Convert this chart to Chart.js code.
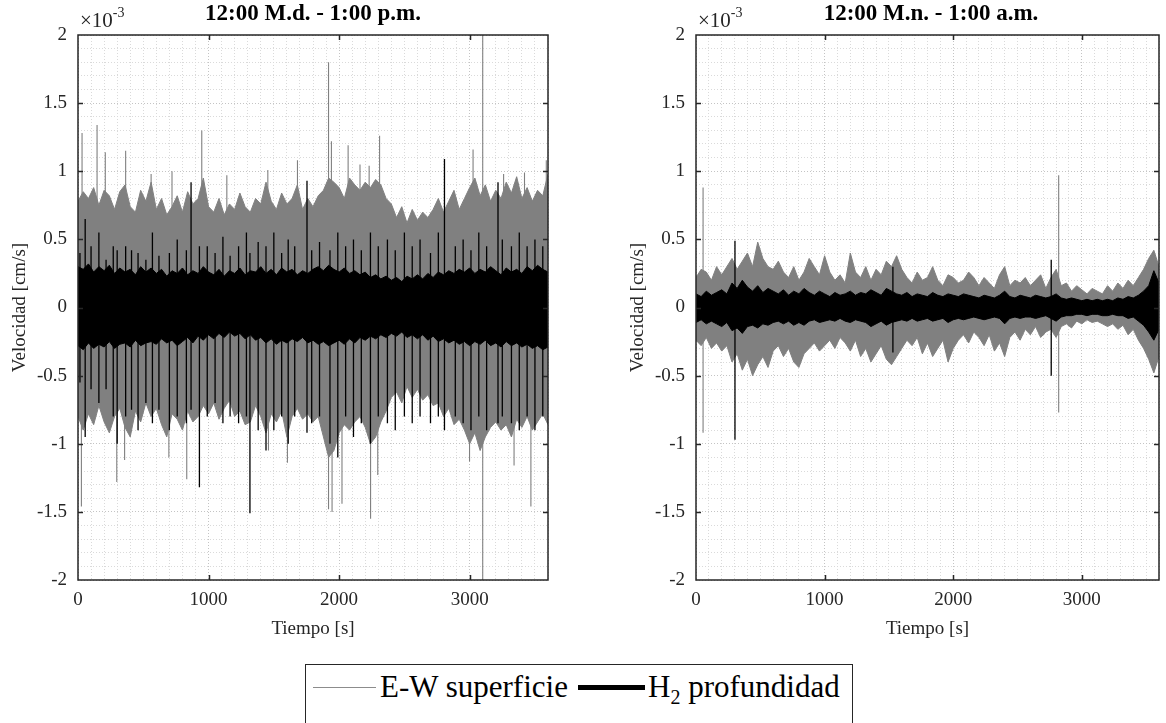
<!DOCTYPE html>
<html><head><meta charset="utf-8">
<script src="https://cdn.jsdelivr.net/npm/chart.js@4.4.1/dist/chart.umd.min.js"></script>
<style>
html,body{margin:0;padding:0;background:#fff;overflow:hidden;width:1166px;height:723px;}
#wrap{position:relative;width:1166px;height:723px;font-family:"Liberation Serif",serif;color:#262626;overflow:hidden;}
canvas{position:absolute;top:0;}
.ttl{position:absolute;font-family:"Liberation Serif",serif;font-weight:bold;font-size:23px;color:#000;white-space:nowrap;transform:translateX(-50%);top:0px;line-height:25px;}
.exp{position:absolute;font-family:"Liberation Serif",serif;font-size:21px;white-space:nowrap;top:3px;line-height:24px;color:#262626;}
.exp sup{font-size:14px;position:relative;top:-2px;}
#legend{position:absolute;left:305px;top:664px;width:548px;height:80px;border:1.5px solid #262626;box-sizing:border-box;background:#fff;}
.lgline{position:absolute;}
.lgtext{position:absolute;font-family:"Liberation Serif",serif;font-size:31px;line-height:36px;white-space:nowrap;color:#000;}
.lgtext sub{font-size:20px;line-height:0;}
</style></head>
<body><div id="wrap">
<canvas id="cL" width="583" height="660" style="left:0px;width:583px;height:660px"></canvas>
<canvas id="cR" width="550" height="660" style="left:618px;width:550px;height:660px"></canvas>
<div class="ttl" style="left:313px">12:00 M.d. - 1:00 p.m.</div>
<div class="ttl" style="left:931px">12:00 M.n. - 1:00 a.m.</div>
<div class="exp" style="left:80px">&times;10<sup>-3</sup></div>
<div class="exp" style="left:698px">&times;10<sup>-3</sup></div>
<div id="legend">
  <div class="lgline" style="left:7px;top:22px;width:63px;height:0;border-top:1.5px solid #8c8c8c"></div>
  <div class="lgtext" style="left:74px;top:4px">E-W superficie</div>
  <div class="lgline" style="left:272px;top:20px;width:67px;height:5px;background:#000"></div>
  <div class="lgtext" style="left:342px;top:4px">H<sub>2</sub> profundidad</div>
</div>
</div>
<script>
// Time axis (s) of the envelope samples
const timeSec = [0,40,80,120,160,200,240,280,320,360,
400,440,480,520,560,600,640,680,720,760,
800,840,880,920,960,1000,1040,1080,1120,1160,
1200,1240,1280,1320,1360,1400,1440,1480,1520,1560,
1600,1640,1680,1720,1760,1800,1840,1880,1920,1960,
2000,2040,2080,2120,2160,2200,2240,2280,2320,2360,
2400,2440,2480,2520,2560,2600,2640,2680,2720,2760,
2800,2840,2880,2920,2960,3000,3040,3080,3120,3160,
3200,3240,3280,3320,3360,3400,3440,3480,3520,3560,
3600];

// Values in units of 1e-3 cm/s
// ---- Left panel: 12:00 M.d. - 1:00 p.m.
const leftGrayUpper = [0.78,0.85,0.80,0.88,0.75,0.86,0.82,0.72,0.85,0.90,
0.74,0.70,0.86,0.78,0.92,0.72,0.80,0.68,0.74,0.82,
0.70,0.85,0.76,0.80,0.95,0.74,0.70,0.80,0.68,0.76,
0.72,0.84,0.74,0.70,0.80,0.76,0.92,0.78,0.72,0.84,
0.76,0.80,0.90,0.72,0.80,0.74,0.82,0.86,0.95,0.92,
0.88,0.80,0.95,0.90,0.86,0.92,0.88,0.94,0.90,0.80,
0.76,0.66,0.74,0.62,0.72,0.64,0.70,0.66,0.72,0.80,
0.70,0.78,0.86,0.72,0.80,0.88,0.95,0.82,0.90,0.78,
0.86,0.80,0.92,0.84,0.96,0.80,0.88,0.78,0.86,0.82,
0.98];
const leftGrayLower = [-0.80,-0.90,-0.78,-0.86,-0.72,-0.84,-0.92,-0.80,-0.74,-0.88,
-0.95,-0.76,-0.84,-0.70,-0.80,-0.74,-0.86,-0.95,-0.78,-0.82,
-0.90,-0.76,-0.84,-0.80,-0.72,-0.78,-0.70,-0.82,-0.74,-0.68,
-0.80,-0.76,-0.86,-0.84,-0.72,-0.80,-0.92,-0.78,-0.84,-0.76,
-0.95,-0.80,-0.74,-0.82,-0.78,-0.84,-0.80,-0.95,-1.10,-1.05,
-0.92,-0.86,-0.90,-0.84,-0.80,-0.88,-1.00,-0.95,-0.84,-0.76,
-0.66,-0.62,-0.70,-0.58,-0.66,-0.60,-0.68,-0.64,-0.72,-0.70,
-0.80,-0.74,-0.86,-0.82,-0.90,-1.00,-0.92,-1.05,-0.95,-0.88,
-0.84,-0.90,-0.86,-0.95,-0.82,-0.88,-0.80,-0.90,-0.84,-0.78,
-0.86];
const leftBlackUpper = [0.30,0.28,0.32,0.26,0.30,0.27,0.31,0.25,0.29,0.26,
0.28,0.24,0.30,0.26,0.29,0.25,0.28,0.23,0.27,0.25,
0.29,0.24,0.27,0.25,0.30,0.26,0.24,0.28,0.23,0.27,
0.25,0.29,0.24,0.27,0.26,0.30,0.25,0.28,0.24,0.29,
0.26,0.28,0.24,0.27,0.25,0.28,0.30,0.27,0.31,0.28,
0.26,0.29,0.25,0.27,0.24,0.26,0.22,0.24,0.21,0.23,
0.20,0.22,0.19,0.23,0.21,0.24,0.21,0.25,0.22,0.26,
0.24,0.27,0.25,0.28,0.26,0.29,0.25,0.28,0.26,0.30,
0.27,0.24,0.29,0.26,0.28,0.25,0.30,0.27,0.31,0.28,
0.26];
const leftBlackLower = [-0.28,-0.31,-0.26,-0.30,-0.27,-0.29,-0.25,-0.30,-0.27,-0.26,
-0.29,-0.24,-0.28,-0.26,-0.25,-0.27,-0.23,-0.26,-0.24,-0.28,
-0.25,-0.22,-0.26,-0.21,-0.24,-0.20,-0.23,-0.19,-0.22,-0.18,
-0.21,-0.19,-0.23,-0.20,-0.24,-0.22,-0.26,-0.23,-0.27,-0.24,
-0.26,-0.23,-0.25,-0.22,-0.26,-0.24,-0.27,-0.25,-0.28,-0.26,
-0.24,-0.27,-0.23,-0.26,-0.22,-0.24,-0.21,-0.23,-0.20,-0.22,
-0.19,-0.21,-0.18,-0.22,-0.20,-0.23,-0.20,-0.24,-0.21,-0.25,
-0.23,-0.26,-0.24,-0.27,-0.25,-0.28,-0.25,-0.27,-0.24,-0.28,
-0.26,-0.29,-0.25,-0.28,-0.26,-0.29,-0.27,-0.30,-0.28,-0.31,
-0.29];
// isolated peaks of the surface (gray) trace
const leftGrayPeakUpT = [31,146,209,365,560,720,948,1140,1454,1681,1919,1941,2069,2160,2230,2310,3026,3100,3260,3420,3587];
const leftGrayPeakUpV = [1.28,1.34,1.14,1.15,0.98,1.00,1.30,0.97,1.01,1.08,1.80,1.22,1.19,1.05,1.04,1.26,1.16,2.00,0.98,0.99,1.08];
const leftGrayPeakDnT = [26,297,357,696,833,1459,1604,1919,1946,2022,2241,2296,2999,3100,3340,3469];
const leftGrayPeakDnV = [-1.46,-1.28,-1.12,-1.10,-1.26,-1.05,-1.14,-1.48,-1.50,-1.44,-1.55,-1.23,-1.13,-2.00,-1.16,-1.46];
// isolated pulses of the deep (black) trace
const leftBlackPulseT  = [15,55,100,160,215,270,300,365,410,460,520,570,620,700,760,830,866,930,990,1050,1110,1165,1230,1290,1317,1380,1440,1500,1560,1610,1660,1754,1790,1850,1930,1990,2050,2110,2170,2240,2300,2370,2430,2500,2560,2620,2700,2760,2807,2890,2950,3010,3070,3130,3217,3250,3320,3380,3440,3500,3560];
const leftBlackPulseHi = [0.40,0.65,0.45,0.55,0.35,0.45,0.42,0.45,0.42,0.40,0.35,0.55,0.38,0.40,0.50,0.42,0.92,0.45,0.45,0.40,0.52,0.38,0.45,0.55,0.40,0.48,0.45,0.55,0.40,0.50,0.45,0.93,0.42,0.48,0.42,0.55,0.45,0.50,0.42,0.55,0.45,0.50,0.42,0.55,0.45,0.50,0.40,0.55,1.09,0.45,0.50,0.42,0.55,0.45,0.92,0.50,0.45,0.55,0.45,0.50,0.45];
const leftBlackPulseLo = [-0.55,-0.95,-0.60,-0.70,-0.60,-0.80,-1.00,-0.80,-0.75,-0.90,-0.70,-0.85,-0.75,-0.90,-0.80,-0.85,-0.75,-1.32,-0.80,-0.70,-0.85,-0.80,-0.85,-0.80,-1.51,-0.90,-1.05,-0.90,-0.80,-1.00,-0.80,-0.92,-0.85,-0.80,-1.00,-1.10,-0.80,-0.95,-0.85,-1.00,-0.80,-0.85,-0.90,-0.80,-0.85,-0.80,-0.85,-0.80,-0.90,-0.80,-0.85,-0.90,-0.80,-0.90,-0.85,-0.80,-0.85,-0.90,-0.80,-0.90,-0.80];

// ---- Right panel: 12:00 M.n. - 1:00 a.m.
const rightGrayUpper = [0.22,0.28,0.26,0.20,0.30,0.24,0.30,0.36,0.28,0.34,
0.40,0.30,0.48,0.36,0.30,0.28,0.34,0.26,0.22,0.30,
0.20,0.26,0.36,0.30,0.24,0.38,0.26,0.20,0.24,0.18,
0.40,0.26,0.22,0.30,0.20,0.28,0.24,0.34,0.30,0.38,
0.28,0.22,0.18,0.26,0.20,0.22,0.30,0.20,0.16,0.24,
0.22,0.18,0.20,0.26,0.22,0.16,0.22,0.18,0.14,0.24,
0.30,0.16,0.20,0.18,0.22,0.16,0.20,0.24,0.14,0.22,
0.28,0.16,0.18,0.12,0.16,0.13,0.10,0.14,0.12,0.10,
0.16,0.12,0.18,0.14,0.20,0.16,0.22,0.28,0.36,0.42,
0.30];
const rightGrayLower = [-0.24,-0.28,-0.22,-0.30,-0.26,-0.32,-0.28,-0.40,-0.34,-0.46,
-0.38,-0.50,-0.42,-0.36,-0.44,-0.32,-0.28,-0.36,-0.30,-0.40,
-0.44,-0.34,-0.30,-0.26,-0.32,-0.28,-0.24,-0.30,-0.22,-0.26,
-0.32,-0.24,-0.36,-0.30,-0.40,-0.34,-0.28,-0.38,-0.42,-0.36,
-0.30,-0.24,-0.28,-0.22,-0.34,-0.26,-0.36,-0.30,-0.24,-0.40,
-0.30,-0.24,-0.20,-0.26,-0.18,-0.22,-0.28,-0.20,-0.32,-0.26,
-0.36,-0.22,-0.18,-0.24,-0.16,-0.20,-0.14,-0.22,-0.18,-0.16,
-0.22,-0.14,-0.12,-0.15,-0.10,-0.12,-0.09,-0.11,-0.10,-0.12,
-0.14,-0.12,-0.16,-0.13,-0.20,-0.16,-0.24,-0.30,-0.38,-0.48,
-0.36];
const rightBlackUpper = [0.10,0.08,0.12,0.09,0.11,0.13,0.10,0.18,0.14,0.20,
0.15,0.12,0.16,0.11,0.14,0.12,0.10,0.13,0.09,0.12,
0.10,0.14,0.11,0.09,0.12,0.10,0.08,0.11,0.09,0.10,
0.12,0.09,0.11,0.10,0.13,0.11,0.09,0.14,0.12,0.10,
0.09,0.11,0.08,0.10,0.09,0.08,0.11,0.09,0.08,0.10,
0.09,0.08,0.10,0.09,0.08,0.07,0.09,0.08,0.07,0.09,
0.12,0.08,0.07,0.09,0.08,0.07,0.09,0.08,0.07,0.08,
0.10,0.07,0.06,0.07,0.06,0.05,0.06,0.05,0.06,0.05,
0.06,0.05,0.07,0.06,0.08,0.07,0.09,0.12,0.16,0.27,
0.18];
const rightBlackLower = [-0.11,-0.09,-0.12,-0.10,-0.12,-0.14,-0.11,-0.17,-0.15,-0.19,
-0.14,-0.13,-0.15,-0.12,-0.13,-0.11,-0.10,-0.12,-0.10,-0.13,
-0.11,-0.13,-0.10,-0.09,-0.11,-0.10,-0.09,-0.10,-0.08,-0.10,
-0.11,-0.09,-0.10,-0.11,-0.14,-0.12,-0.10,-0.13,-0.11,-0.10,
-0.09,-0.10,-0.08,-0.10,-0.09,-0.08,-0.10,-0.09,-0.08,-0.11,
-0.09,-0.08,-0.09,-0.08,-0.07,-0.08,-0.09,-0.08,-0.07,-0.08,
-0.12,-0.08,-0.07,-0.08,-0.07,-0.07,-0.08,-0.07,-0.06,-0.08,
-0.10,-0.07,-0.06,-0.06,-0.05,-0.05,-0.06,-0.05,-0.05,-0.06,
-0.06,-0.05,-0.06,-0.06,-0.08,-0.07,-0.10,-0.13,-0.18,-0.24,
-0.16];
const rightGrayPeakUpT = [55,2820];
const rightGrayPeakUpV = [0.88,0.97];
const rightGrayPeakDnT = [55,2820];
const rightGrayPeakDnV = [-0.92,-0.77];
const rightBlackPulseT  = [303,1531,2762];
const rightBlackPulseHi = [0.49,0.30,0.35];
const rightBlackPulseLo = [-0.97,-0.33,-0.50];

// Axis ticks
const xMin = 0, xMax = 3600, xMinorStep = 100, xLabelEvery = 1000;
const yMin = -2, yMax = 2, yMinorStep = 0.1, yLabelEvery = 0.5;

const FONT = '"Liberation Serif", serif';
const GRAY = '#808080', BLACK = '#000000', AXIS = '#262626';

function pts(ts, vs){ return ts.map((t,i)=>({x:t,y:vs[i]})); }
function segments(ts, lo, hi){
  const out=[];
  ts.forEach((t,i)=>{ const a = Array.isArray(lo)?lo[i]:lo; out.push({x:t,y:a},{x:t,y:hi[i]},{x:t,y:null}); });
  return out;
}
function isMajorY(v){ return Math.round(v*10) % 5 === 0; }

const boxPlugin = {
  id:'box',
  afterDraw(chart){
    const {ctx, chartArea:a, scales:{x,y}} = chart;
    ctx.save();
    ctx.strokeStyle = AXIS; ctx.lineWidth = 1.5;
    const tl = 5;
    ctx.beginPath();
    x.ticks.forEach(t=>{
      if (t.value % xLabelEvery === 0 && t.value > xMin && t.value < xMax){
        const p = Math.round(x.getPixelForValue(t.value))+0.5;
        ctx.moveTo(p,a.bottom); ctx.lineTo(p,a.bottom-tl);
        ctx.moveTo(p,a.top); ctx.lineTo(p,a.top+tl);
      }
    });
    y.ticks.forEach(t=>{
      if (isMajorY(t.value) && t.value > yMin && t.value < yMax){
        const p = Math.round(y.getPixelForValue(t.value))+0.5;
        ctx.moveTo(a.left,p); ctx.lineTo(a.left+tl,p);
        ctx.moveTo(a.right,p); ctx.lineTo(a.right-tl,p);
      }
    });
    ctx.stroke();
    ctx.strokeRect(a.left, a.top, a.right-a.left, a.bottom-a.top);
    ctx.restore();
  }
};

function build(canvasId, padRight, d){
  const datasets = [
    {data:segments(d.bT, d.bLo, d.bHi), borderColor:BLACK, borderWidth:1.3, order:0, fill:false, spanGaps:false},
    {data:pts(timeSec, d.bU), borderColor:BLACK, backgroundColor:BLACK, borderWidth:1, order:1, fill:'+1'},
    {data:pts(timeSec, d.bL), borderColor:BLACK, borderWidth:1, order:1, fill:false},
    {data:segments(d.gUpT, 0, d.gUpV).concat(segments(d.gDnT, 0, d.gDnV)), borderColor:GRAY, borderWidth:1.1, order:2, fill:false, spanGaps:false},
    {data:pts(timeSec, d.gU), borderColor:GRAY, backgroundColor:GRAY, borderWidth:1, order:3, fill:'+1'},
    {data:pts(timeSec, d.gL), borderColor:GRAY, borderWidth:1, order:3, fill:false}
  ];
  return new Chart(document.getElementById(canvasId), {
    type:'line',
    data:{datasets},
    plugins:[boxPlugin],
    options:{
      responsive:false, animation:false, devicePixelRatio:1,
      layout:{padding:{top:35,left:0,right:padRight,bottom:20}},
      plugins:{legend:{display:false}, tooltip:{enabled:false}},
      elements:{point:{radius:0}, line:{tension:0}},
      scales:{
        x:{type:'linear', min:xMin, max:xMax,
           afterFit:s=>{s.height=60;},
           ticks:{stepSize:xMinorStep, autoSkip:false, maxRotation:0, padding:9, color:AXIS,
                  font:{family:FONT,size:19},
                  callback:v=> (v % xLabelEvery === 0 && v < xMax) ? String(v) : ''},
           grid:{drawTicks:false, lineWidth:1, color:c=> (c.tick && c.tick.value % xLabelEvery===0) ? '#c4c4c4' : '#dadada'},
           border:{display:false, dash:[1,2]},
           title:{display:true, text:'Tiempo [s]', color:AXIS, font:{family:FONT,size:19}, padding:{top:0,bottom:0}}
        },
        y:{type:'linear', min:yMin, max:yMax,
           afterFit:s=>{s.width=78;},
           ticks:{stepSize:yMinorStep, autoSkip:false, padding:11, color:AXIS,
                  font:{family:FONT,size:19},
                  callback:v=> isMajorY(v) ? String(Math.round(v*10)/10) : ''},
           grid:{drawTicks:false, lineWidth:1, color:c=> (c.tick && isMajorY(c.tick.value)) ? '#c4c4c4' : '#dadada'},
           border:{display:false, dash:[1,2]},
           title:{display:true, text:'Velocidad [cm/s]', color:AXIS, font:{family:FONT,size:19}, padding:{top:9,bottom:0}}
        }
      }
    }
  });
}

build('cL', 35, {gU:leftGrayUpper, gL:leftGrayLower, bU:leftBlackUpper, bL:leftBlackLower,
  gUpT:leftGrayPeakUpT, gUpV:leftGrayPeakUpV, gDnT:leftGrayPeakDnT, gDnV:leftGrayPeakDnV,
  bT:leftBlackPulseT, bHi:leftBlackPulseHi, bLo:leftBlackPulseLo});
build('cR', 1, {gU:rightGrayUpper, gL:rightGrayLower, bU:rightBlackUpper, bL:rightBlackLower,
  gUpT:rightGrayPeakUpT, gUpV:rightGrayPeakUpV, gDnT:rightGrayPeakDnT, gDnV:rightGrayPeakDnV,
  bT:rightBlackPulseT, bHi:rightBlackPulseHi, bLo:rightBlackPulseLo});
</script>
</body></html>
